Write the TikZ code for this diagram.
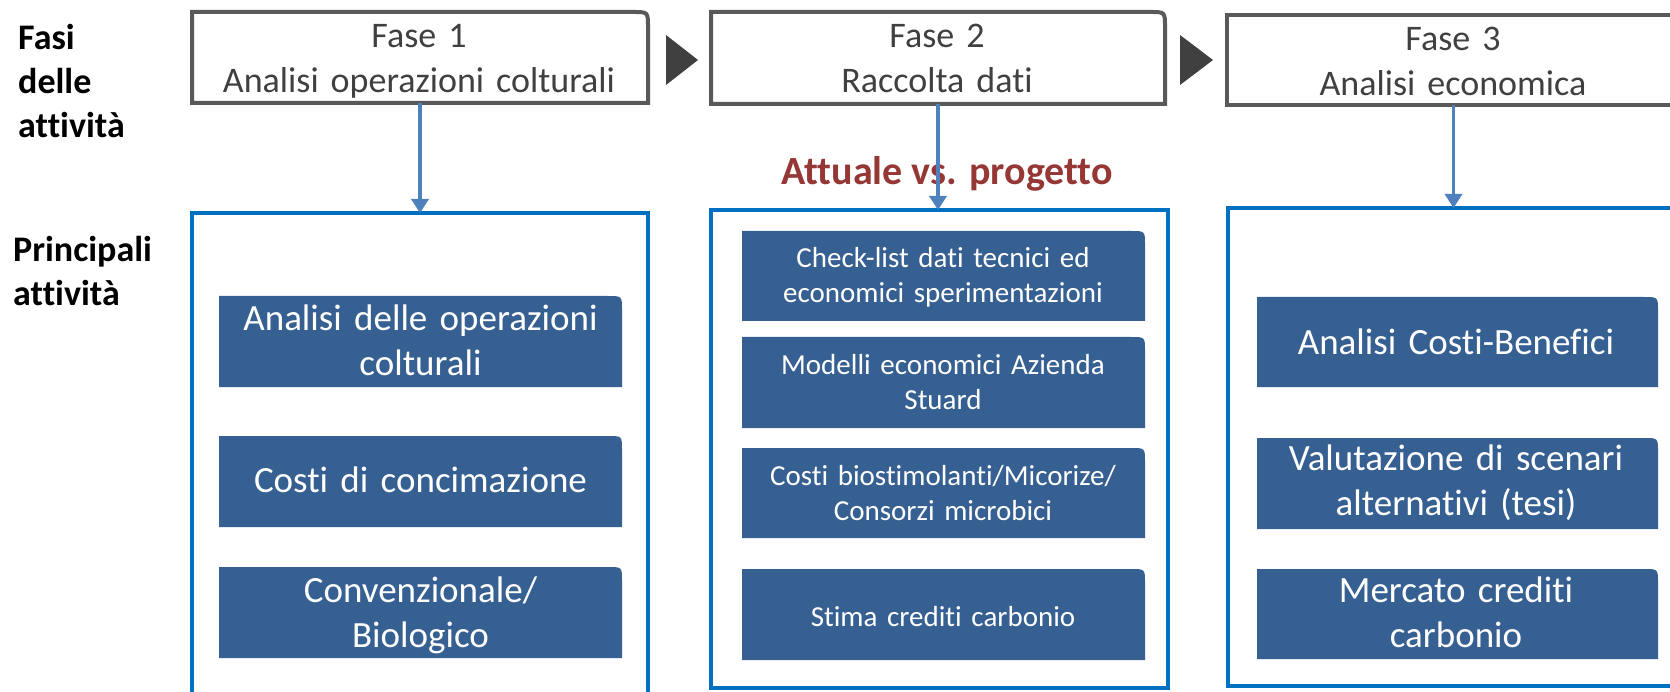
\documentclass[tikz,border=0pt]{standalone}
\usepackage{fontspec}
\setmainfont{Carlito}[Ligatures=NoCommon]
\usetikzlibrary{arrows.meta,calc}
\definecolor{phasegray}{HTML}{595959}
\definecolor{phasetext}{HTML}{404040}
\definecolor{framblue}{HTML}{0070C0}
\definecolor{boxblue}{HTML}{376092}
\definecolor{arrblue}{HTML}{4F81BD}
\definecolor{tridark}{HTML}{404040}
\definecolor{accentred}{HTML}{953735}
\newcommand\toprightbox[3]{%
  \path[#2] (#1.south west) -- (#1.north west) -- ($(#1.north east)+(-#3,0)$)
    .. controls (#1.north east) .. ($(#1.north east)+(0,#3)$) -- (#1.south east) -- cycle;}
\begin{document}
\begin{tikzpicture}[x=1pt,y=-1pt,
  shapebox/.style={rectangle, inner sep=0pt, outer sep=0pt, draw=none},
  phaseline/.style={draw=phasegray, line width=4pt},
  phasetxt/.style={font=\fontsize{36}{45}\selectfont, text=phasetext, align=center,
    text width=440pt, anchor=base, inner sep=0pt},
  bluefr/.style={shapebox, draw=framblue, line width=4pt},
  actfill/.style={fill=boxblue},
  acttxt/.style={font=\fontsize{37}{45}\selectfont, text=white, align=center,
    text width=400pt, anchor=base, inner sep=0pt},
  acttxtsmall/.style={font=\fontsize{29}{35}\selectfont, text=white, align=center,
    text width=400pt, anchor=base, inner sep=0pt},
  sidelabel/.style={font=\bfseries\fontsize{36}{44}\selectfont, text=black, align=left,
    text width=170pt, anchor=base west, inner sep=0pt},
  flowarrow/.style={draw=arrblue, line width=3.5pt, -{Triangle[width=17pt,length=14pt]}},
]
\useasboundingbox (0,0) rectangle (1670,692);
\clip (0,0) rectangle (1670,692);
\fill[white] (0,0) rectangle (1670,692);

% side labels
\node[sidelabel] (lab1) at (18,50) {Fasi\\delle\\attività};
\node[sidelabel] (lab2) at (13,262) {Principali\\attività};

% phase boxes
\node[shapebox, minimum width=456pt, minimum height=91pt] (p1) at (420,57.5) {};
\node[shapebox, minimum width=454pt, minimum height=92pt] (p2) at (938,58) {};
\node[shapebox, minimum width=453pt, minimum height=90pt] (p3) at (1453.5,60) {};
\toprightbox{p1}{phaseline}{15}
\toprightbox{p2}{phaseline}{15}
\draw[phaseline] (p3.south west) rectangle (p3.north east);
\node[phasetxt] (t1) at (419,48) {Fase 1\\Analisi operazioni colturali};
\node[phasetxt] (t2) at (937,48) {Fase 2\\Raccolta dati};
\node[phasetxt] (t3) at (1453,51) {Fase 3\\Analisi economica};

% triangles between phases
\fill[tridark] (666,35) -- (698,60) -- (666,85) -- cycle;
\fill[tridark] (1180,35) -- (1213,60) -- (1180,85) -- cycle;

% blue frames
\node[bluefr, minimum width=456pt, minimum height=487pt] (b1) at (420,456.5) {};
\node[bluefr, minimum width=457pt, minimum height=478pt] (b2) at (939.5,449) {};
\node[bluefr, minimum width=472pt, minimum height=478pt] (b3) at (1464,447) {};

% activity boxes
\node[shapebox, minimum width=403pt, minimum height=91pt] (l1) at (420.5,341.5) {};
\node[shapebox, minimum width=403pt, minimum height=91pt] (l2) at (420.5,481.5) {};
\node[shapebox, minimum width=403pt, minimum height=91pt] (l3) at (420.5,612.5) {};
\node[shapebox, minimum width=403pt, minimum height=90pt] (m1) at (943.5,276) {};
\node[shapebox, minimum width=403pt, minimum height=91pt] (m2) at (943.5,382.5) {};
\node[shapebox, minimum width=403pt, minimum height=90pt] (m3) at (943.5,493) {};
\node[shapebox, minimum width=403pt, minimum height=91pt] (m4) at (943.5,614.5) {};
\node[shapebox, minimum width=401pt, minimum height=90pt] (r1) at (1457.5,342) {};
\node[shapebox, minimum width=401pt, minimum height=91pt] (r2) at (1457.5,483.5) {};
\node[shapebox, minimum width=401pt, minimum height=90pt] (r3) at (1457.5,614) {};
\foreach \n in {l1,l2,l3,m1,m2,m3,m4,r1,r2,r3}{\toprightbox{\n}{actfill}{14}}

\node[acttxt] (tl1) at (420.5,331) {Analisi delle operazioni\\colturali};
\node[acttxt] (tl2) at (420.5,492) {Costi di concimazione};
\node[acttxt] (tl3) at (420.5,602) {Convenzionale/\\Biologico};
\node[acttxtsmall] (tm1) at (943,268) {Check-list dati tecnici ed\\economici sperimentazioni};
\node[acttxtsmall] (tm2) at (943,374) {Modelli economici Azienda\\Stuard};
\node[acttxtsmall] (tm3) at (943,485) {Costi biostimolanti/Micorize/\\Consorzi microbici};
\node[acttxtsmall] (tm4) at (943,626) {Stima crediti carbonio};
\node[acttxt] (tr1) at (1456,355) {Analisi Costi-Benefici};
\node[acttxt] (tr2) at (1456,470) {Valutazione di scenari\\alternativi (tesi)};
\node[acttxt] (tr3) at (1456,602) {Mercato crediti\\carbonio};

% heading
\node[anchor=base, font=\bfseries\fontsize{40}{48}\selectfont, text=accentred, inner sep=0pt] (att) at (947,185) {Attuale vs. progetto};

% arrows
\draw[flowarrow] (p1) -- (p1 |- b1.north);
\draw[flowarrow] (p2) -- (p2 |- b2.north);
\draw[flowarrow] (p3) -- (p3 |- b3.north);
\end{tikzpicture}
\end{document}
